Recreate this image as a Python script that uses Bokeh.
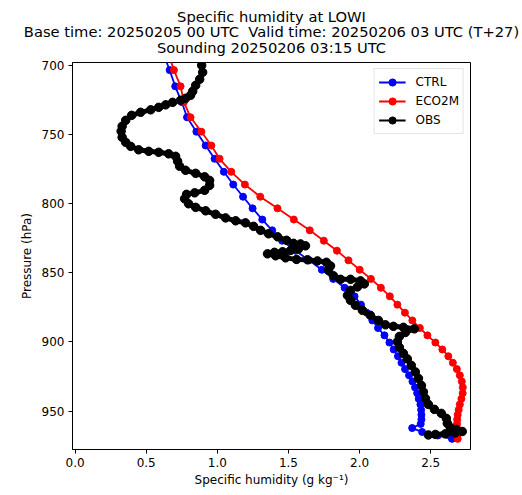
from bokeh.plotting import figure
from bokeh.models import Range1d, FixedTicker, PrintfTickFormatter, Legend, LegendItem, ColumnDataSource, Title
from bokeh.embed import file_html
from bokeh.resources import INLINE

# ---------------- data ----------------
title_lines = ["Specific humidity at LOWI",
               "Base time: 20250205 00 UTC \u00a0Valid time: 20250206 03 UTC (T+27)",
               "Sounding 20250206 03:15 UTC"]
x_label = "Specific humidity (g kg\u207b\u00b9)"
y_label = "Pressure (hPa)"
x_ticks = [0.0, 0.5, 1.0, 1.5, 2.0, 2.5]
y_ticks = [700, 750, 800, 850, 900, 950]

model_pressure = [691.5, 703.5, 715.2, 726.6, 737.6, 748.0, 758.0, 767.6, 777.0, 786.2,
                  795.0, 803.4, 811.5, 819.3, 826.8, 834.0, 841.0, 847.8, 854.4, 860.8,
                  867.0, 873.0, 878.8, 884.4, 889.9, 895.2, 900.4, 905.4, 910.3, 915.0,
                  919.6, 924.1, 928.5, 932.8, 937.0, 941.1, 945.1, 949.0, 952.6, 956.0,
                  959.2, 962.2, 965.0, 967.6, 970.0]
ctrl_q = [0.62, 0.665, 0.704, 0.75, 0.787, 0.853, 0.918, 0.981, 1.046, 1.112,
          1.181, 1.248, 1.316, 1.386, 1.456, 1.55, 1.645, 1.735, 1.815, 1.895,
          1.965, 2.01, 2.05, 2.09, 2.13, 2.175, 2.21, 2.24, 2.27, 2.295,
          2.32, 2.348, 2.372, 2.39, 2.405, 2.416, 2.428, 2.433, 2.435, 2.435,
          2.43, 2.37, 2.44, 2.55, 2.65]
eco2m_q = [0.655, 0.695, 0.742, 0.765, 0.812, 0.888, 0.958, 1.016, 1.098, 1.194,
           1.302, 1.423, 1.538, 1.65, 1.749, 1.841, 1.922, 2.001, 2.08, 2.15,
           2.213, 2.266, 2.319, 2.371, 2.424, 2.477, 2.533, 2.582, 2.624, 2.656,
           2.684, 2.705, 2.719, 2.726, 2.725, 2.716, 2.705, 2.697, 2.69, 2.686,
           2.685, 2.685, 2.686, 2.688, 2.69]

obs_pressure = [694.9, 700.0, 705.1, 710.1, 714.5, 718.8, 721.7, 723.9, 725.3, 726.8,
                728.6, 730.4, 732.2, 734.0, 736.2, 739.8, 744.1, 747.7, 752.1, 755.7,
                758.6, 761.1, 762.2, 762.9, 764.0, 765.8, 769.4, 773.0, 775.9, 778.1,
                780.6, 783.2, 786.8, 790.4, 792.2, 793.3, 796.5, 800.1, 802.7, 805.2,
                807.7, 810.3, 812.4, 813.9, 816.4, 819.3, 821.8, 824.0, 826.5, 828.7,
                829.1, 830.5, 832.7, 833.8, 834.8, 835.2, 836.3, 837.7, 839.2, 840.3,
                840.6, 841.4, 842.4, 845.0, 848.2, 852.2, 854.7, 854.7, 855.8, 858.0,
                860.2, 862.7, 866.3, 869.9, 873.5, 877.1, 880.7, 884.4, 887.6, 888.7,
                889.4, 890.5, 893.1, 896.0, 899.9, 903.9, 908.2, 912.2, 916.9, 921.6,
                926.3, 931.4, 936.1, 940.8, 945.1, 948.7, 951.6, 955.2, 958.8, 961.8,
                963.2, 964.7, 965.7, 966.4, 966.8, 967.2]
obs_q = [0.876, 0.890, 0.897, 0.876, 0.848, 0.827, 0.812, 0.777, 0.742, 0.686,
         0.637, 0.588, 0.532, 0.461, 0.398, 0.356, 0.331, 0.324, 0.331, 0.356,
         0.391, 0.447, 0.518, 0.588, 0.658, 0.707, 0.721, 0.735, 0.777, 0.848,
         0.911, 0.946, 0.946, 0.911, 0.841, 0.784, 0.770, 0.798, 0.848, 0.918,
         0.988, 1.058, 1.129, 1.198, 1.255, 1.304, 1.360, 1.424, 1.487, 1.536,
         1.585, 1.620, 1.571, 1.515, 1.459, 1.402, 1.353, 1.410, 1.480, 1.557,
         1.634, 1.704, 1.767, 1.796, 1.782, 1.817, 1.866, 1.937, 2.007, 2.034,
         1.985, 1.936, 1.915, 1.936, 1.971, 2.020, 2.076, 2.133, 2.182, 2.238,
         2.308, 2.385, 2.322, 2.280, 2.266, 2.280, 2.308, 2.336, 2.364, 2.392,
         2.414, 2.435, 2.449, 2.463, 2.484, 2.526, 2.575, 2.610, 2.617, 2.638,
         2.680, 2.722, 2.673, 2.603, 2.533, 2.484]

FONT = "DejaVu Sans"

p = figure(width=522, height=495, output_backend="svg", toolbar_location=None, title=None,
           x_range=Range1d(-0.018, 2.78), y_range=Range1d(977.7, 698.0),
           min_border_left=72, min_border_right=52, min_border_top=62, min_border_bottom=46,
           background_fill_color="white", border_fill_color="white")

# three centred title lines; later additions sit farther from the frame
standoffs = [12.5, -18.5, 9.0]
for i, txt in enumerate(reversed(title_lines)):
    t = Title(text=txt, align="center", text_font=FONT, text_font_size="14.7px",
              text_font_style="normal", text_color="black",
              standoff=standoffs[i], offset=0)
    p.add_layout(t, "above")

p.grid.visible = False
p.outline_line_color = "black"
p.outline_line_width = 1
p.outline_line_alpha = 1.0

for ax in (p.xaxis, p.yaxis):
    ax.major_tick_in = 0
    ax.major_tick_out = 4
    ax.minor_tick_in = 0
    ax.minor_tick_out = 0
    ax.major_label_text_font = FONT
    ax.major_label_text_font_size = "12px"
    ax.major_label_text_color = "black"
    ax.major_label_standoff = 4
    ax.axis_label_text_font = FONT
    ax.axis_label_text_font_size = "12px"
    ax.axis_label_text_font_style = "normal"
    ax.axis_label_text_color = "black"
    ax.axis_line_color = "black"
    ax.major_tick_line_color = "black"

p.xaxis.ticker = FixedTicker(ticks=x_ticks)
p.xaxis.formatter = PrintfTickFormatter(format="%.1f")
p.yaxis.ticker = FixedTicker(ticks=y_ticks)
p.xaxis.axis_label = x_label
p.yaxis.axis_label = y_label
p.xaxis.axis_label_standoff = 3
p.yaxis.axis_label_standoff = 5

src_ctrl = ColumnDataSource(dict(q=ctrl_q, p=model_pressure))
src_eco = ColumnDataSource(dict(q=eco2m_q, p=model_pressure))
src_obs = ColumnDataSource(dict(q=obs_q, p=obs_pressure))

l1 = p.line("q", "p", source=src_ctrl, line_color="#0000ff", line_width=1.8)
s1 = p.scatter("q", "p", source=src_ctrl, size=7, fill_color="#0000ff", line_color="#0000ff")
l2 = p.line("q", "p", source=src_eco, line_color="#ff0000", line_width=1.8)
s2 = p.scatter("q", "p", source=src_eco, size=7, fill_color="#ff0000", line_color="#ff0000")
# thin OBS glyphs (used for the legend entry), covered by the thick band below
lo = p.line("q", "p", source=src_obs, line_color="black", line_width=1.8)
so = p.scatter("q", "p", source=src_obs, size=7, fill_color="black", line_color="black")
l3 = p.line("q", "p", source=src_obs, line_color="black", line_width=5, line_join="round")
s3 = p.scatter("q", "p", source=src_obs, size=8.5, fill_color="black", line_color="black")

legend = Legend(items=[LegendItem(label="CTRL", renderers=[l1, s1]),
                       LegendItem(label="ECO2M", renderers=[l2, s2]),
                       LegendItem(label="OBS", renderers=[lo, so])],
                location="top_right")
legend.margin = 6
legend.padding = 4
legend.spacing = 1
legend.glyph_height = 18
legend.glyph_width = 27
legend.label_standoff = 10
legend.label_text_font = FONT
legend.label_text_font_size = "12px"
legend.label_text_color = "black"
legend.border_line_color = "#cccccc"
legend.border_line_width = 1
legend.background_fill_alpha = 0.8
p.add_layout(legend)

open("out.html", "w").write(file_html(p, INLINE))
